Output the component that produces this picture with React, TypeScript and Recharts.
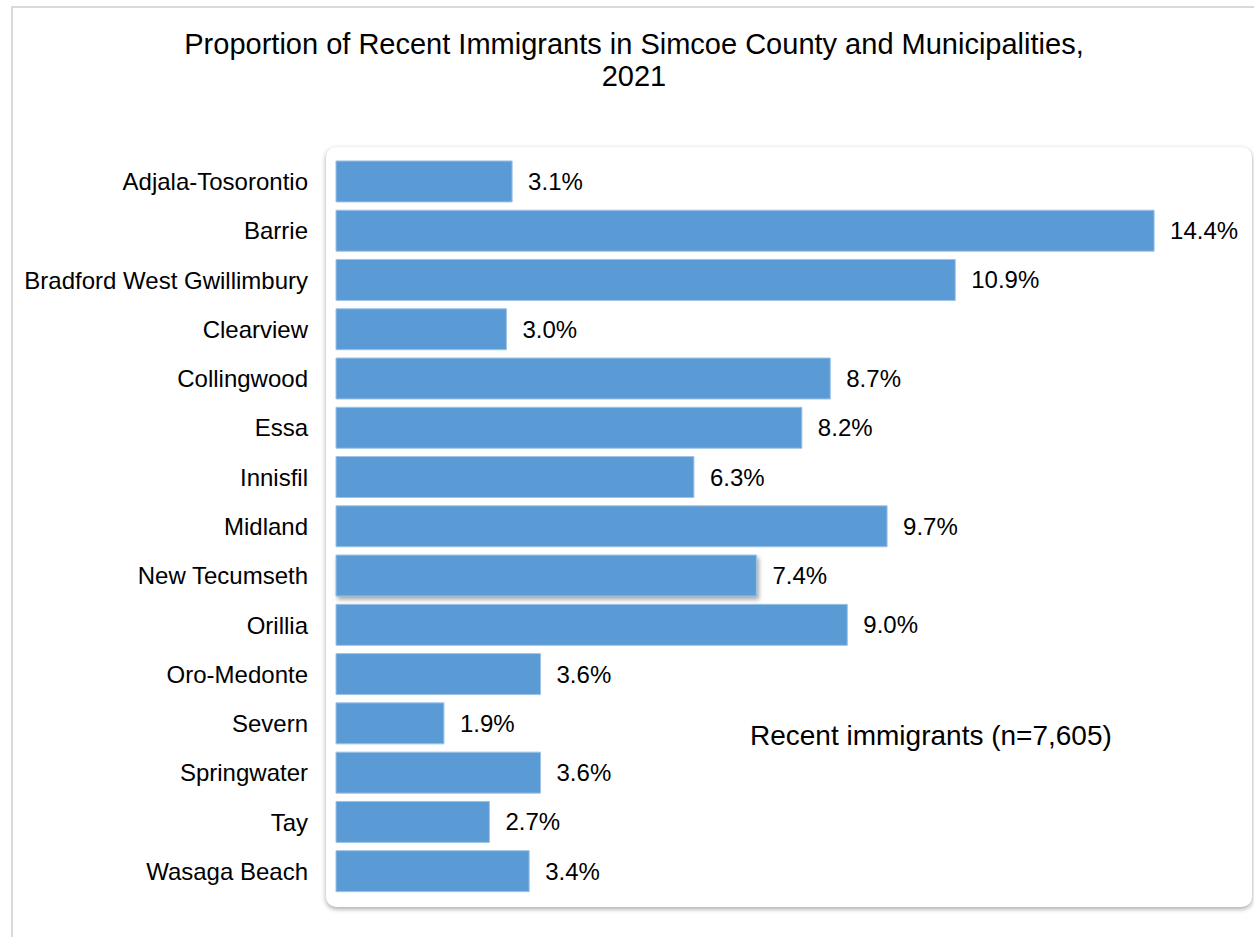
import React from "react";
import { BarChart, Bar, XAxis, YAxis, LabelList, Cell } from "recharts";

const municipalities = [
  "Adjala-Tosorontio",
  "Barrie",
  "Bradford West Gwillimbury",
  "Clearview",
  "Collingwood",
  "Essa",
  "Innisfil",
  "Midland",
  "New Tecumseth",
  "Orillia",
  "Oro-Medonte",
  "Severn",
  "Springwater",
  "Tay",
  "Wasaga Beach",
];

const proportions = [3.1, 14.4, 10.9, 3.0, 8.7, 8.2, 6.3, 9.7, 7.4, 9.0, 3.6, 1.9, 3.6, 2.7, 3.4];

const titleLines = ["Proportion of Recent Immigrants in Simcoe County and Municipalities,", "2021"];
const seriesNote = "Recent immigrants (n=7,605)";

const data = municipalities.map((name, i) => ({ name, value: proportions[i] }));

const FONT = "'Liberation Sans', Arial, sans-serif";

export default function App() {
  return (
    <div
      style={{
        position: "absolute",
        left: 0,
        top: 0,
        width: 1254,
        height: 937,
        overflow: "hidden",
        background: "#ffffff",
        fontFamily: FONT,
      }}
    >
      <div
        style={{
          position: "absolute",
          left: 11,
          top: 6,
          width: 1400,
          height: 1100,
          border: "2px solid #d9d9d9",
          boxSizing: "border-box",
        }}
      />
      <div
        style={{
          position: "absolute",
          left: 0,
          top: 28,
          width: 1268,
          textAlign: "center",
          fontSize: 29,
          lineHeight: "32px",
          color: "#000",
        }}
      >
        {titleLines.map((t) => (
          <div key={t}>{t}</div>
        ))}
      </div>
      <div
        style={{
          position: "absolute",
          left: 326,
          top: 147,
          width: 926,
          height: 760,
          borderRadius: 10,
          background: "#fff",
          boxShadow: "0 2px 5px rgba(0,0,0,0.35)",
        }}
      />
      <div style={{ position: "absolute", left: 0, top: 0 }}>
        <BarChart
          width={1254}
          height={937}
          layout="vertical"
          data={data}
          margin={{ top: 157, right: 9, bottom: 41, left: 0 }}
          barCategoryGap="8%"
        >
          <XAxis type="number" domain={[0, 16]} hide />
          <YAxis
            type="category"
            dataKey="name"
            width={336}
            axisLine={false}
            tickLine={false}
            tickSize={0}
            tickMargin={28}
            interval={0}
            tick={{ fill: "#000", fontSize: 24, fontFamily: FONT }}
          />
          <Bar dataKey="value" fill="#5b9bd5" stroke="#9dc3e6" strokeWidth={1} isAnimationActive={false}>
            {data.map((d) => (
              <Cell
                key={d.name}
                style={
                  d.name === "New Tecumseth"
                    ? { filter: "drop-shadow(2px 3px 2px rgba(0,0,0,0.35))" }
                    : undefined
                }
              />
            ))}
            <LabelList
              dataKey="value"
              position="right"
              offset={16}
              formatter={(v: number) => `${v.toFixed(1)}%`}
              style={{ fill: "#000", fontSize: 24, fontFamily: FONT }}
            />
          </Bar>
        </BarChart>
      </div>
      <div
        style={{
          position: "absolute",
          left: 750,
          top: 720,
          fontSize: 28,
          lineHeight: "32px",
          color: "#000",
          whiteSpace: "nowrap",
        }}
      >
        {seriesNote}
      </div>
    </div>
  );
}
